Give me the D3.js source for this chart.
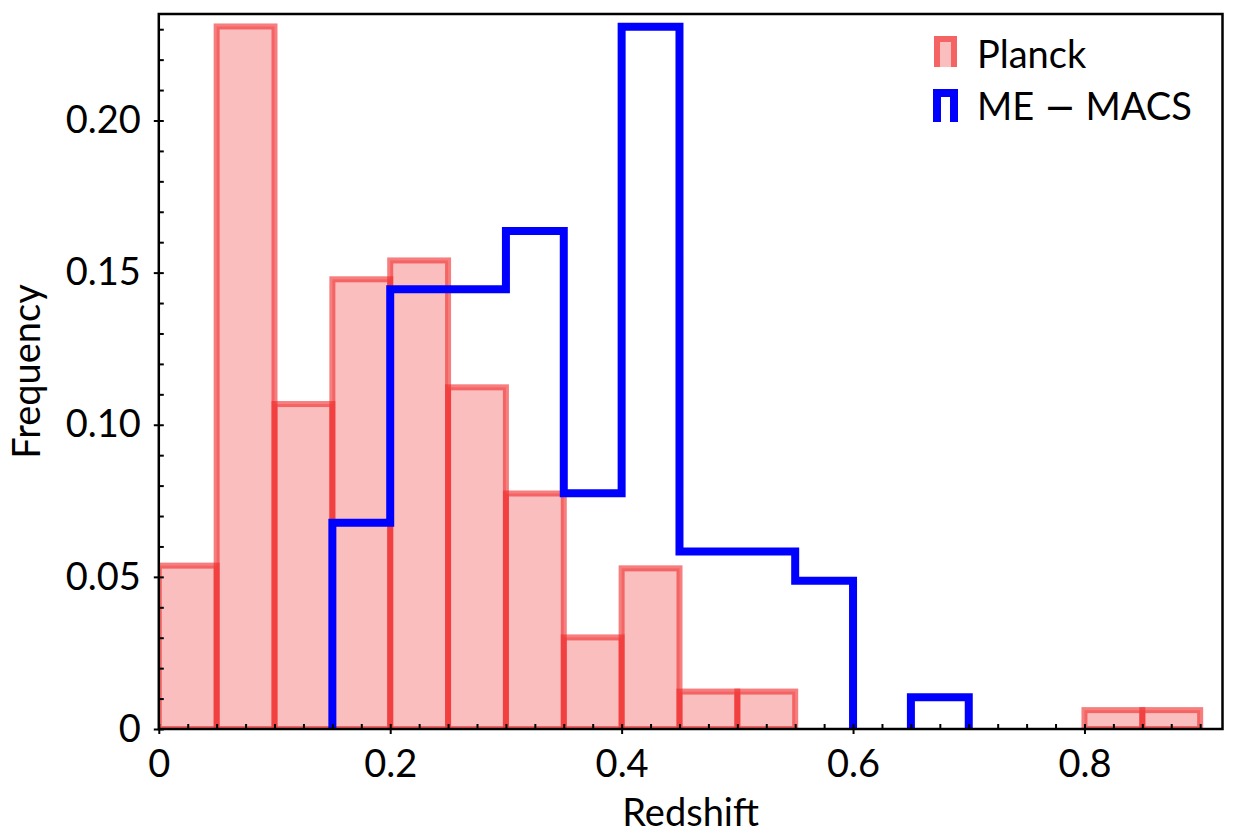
<!DOCTYPE html>
<html lang="en">
<head>
    <meta charset="UTF-8">
    <title>Redshift distribution</title>
    <script src="https://d3js.org/d3.v7.min.js"></script>
    <style>
        body { margin: 0; background: #fff; }
        text { font-family: Lato, "DejaVu Sans", sans-serif; font-weight: 400; fill: #000; }
    </style>
</head>
<body>
    <div id="chart"></div>
    <script>
        // histogram bins (lower edges), width 0.05
        const binEdges = [0, 0.05, 0.10, 0.15, 0.20, 0.25, 0.30, 0.35, 0.40, 0.45,
                          0.50, 0.55, 0.60, 0.65, 0.70, 0.75, 0.80, 0.85];
        const binWidth = 0.05;
        const planck = [0.0537, 0.2309, 0.1068, 0.1478, 0.1540, 0.1123, 0.0774, 0.0301, 0.0528,
                        0.0123, 0.0123, 0, 0, 0, 0, 0, 0.0062, 0.0062];
        const macs = [0, 0, 0, 0.0678, 0.1445, 0.1445, 0.1637, 0.0775, 0.2308,
                      0.0583, 0.0583, 0.0487, 0, 0.0104, 0, 0, 0, 0];
        const xTicks = [0, 0.2, 0.4, 0.6, 0.8];
        const xTickLabels = ['0', '0.2', '0.4', '0.6', '0.8'];
        const yTicks = [0, 0.05, 0.10, 0.15, 0.20];
        const yTickLabels = ['0', '0.05', '0.10', '0.15', '0.20'];
        const seriesNames = ['Planck', ['ME ', '\u2212', ' MACS']];

        const width = 1250, height = 834;
        const margin = { top: 14, right: 27.5, bottom: 105, left: 158.8 };

        const svg = d3.select('#chart').append('svg')
            .attr('width', width)
            .attr('height', height);

        const x = d3.scaleLinear()
            .domain([0, 0.9193])
            .range([margin.left, width - margin.right]);
        const y = d3.scaleLinear()
            .domain([0, 0.235])
            .range([height - margin.bottom, margin.top]);

        svg.append('clipPath').attr('id', 'plot-clip')
            .append('rect')
            .attr('x', x(0)).attr('y', y(0.235))
            .attr('width', x(0.9193) - x(0))
            .attr('height', y(0) - y(0.235));

        const plot = svg.append('g').attr('clip-path', 'url(#plot-clip)');

        const barFill = 'rgba(240,40,40,0.3)';
        const barEdge = 'rgba(240,40,40,0.6)';

        // Planck bars
        const bars = binEdges.map((e, i) => ({ x0: e, x1: e + binWidth, v: planck[i] }))
            .filter(d => d.v > 0);
        plot.selectAll('.bar')
            .data(bars)
            .enter().append('rect')
            .attr('class', 'bar')
            .attr('x', d => x(d.x0))
            .attr('y', d => y(d.v))
            .attr('width', d => x(d.x1) - x(d.x0))
            .attr('height', d => y(0) - y(d.v))
            .attr('fill', barFill)
            .attr('stroke', barEdge)
            .attr('stroke-width', 6);

        // ME-MACS step outline, split on empty bins
        const runs = [];
        let cur = null;
        macs.forEach((v, i) => {
            const x0 = binEdges[i], x1 = x0 + binWidth;
            if (v > 0) {
                if (!cur) { cur = [[x0, 0]]; runs.push(cur); }
                cur.push([x0, v], [x1, v]);
            } else if (cur) {
                cur.push([x0, 0]);
                cur = null;
            }
        });
        if (cur) cur.push([binEdges[binEdges.length - 1] + binWidth, 0]);

        const line = d3.line().x(d => x(d[0])).y(d => y(d[1]));
        plot.selectAll('.step')
            .data(runs)
            .enter().append('path')
            .attr('class', 'step')
            .attr('d', line)
            .attr('fill', 'none')
            .attr('stroke', '#0000ff')
            .attr('stroke-width', 8)
            .attr('stroke-linejoin', 'miter');

        // axes
        const xMinor = d3.range(0, 0.92, 0.025).filter(v => !xTicks.some(t => Math.abs(t - v) < 1e-6));
        const yMinor = d3.range(0, 0.235, 0.01).filter(v => !yTicks.some(t => Math.abs(t - v) < 1e-6));

        const gx = svg.append('g')
            .attr('transform', `translate(0,${y(0)})`)
            .call(d3.axisBottom(x).tickValues(xTicks)
                .tickFormat((d, i) => xTickLabels[i])
                .tickSize(5).tickPadding(16).tickSizeOuter(0));
        gx.selectAll('.tick line').attr('y1', -5);
        svg.append('g')
            .attr('transform', `translate(0,${y(0)})`)
            .call(d3.axisBottom(x).tickValues(xMinor).tickFormat('')
                .tickSize(-5).tickSizeOuter(0))
            .select('.domain').remove();

        const gy = svg.append('g')
            .attr('transform', `translate(${x(0)},0)`)
            .call(d3.axisLeft(y).tickValues(yTicks)
                .tickFormat((d, i) => yTickLabels[i])
                .tickSize(5).tickPadding(13).tickSizeOuter(0));
        gy.selectAll('.tick line').attr('x1', 5);
        svg.append('g')
            .attr('transform', `translate(${x(0)},0)`)
            .call(d3.axisLeft(y).tickValues(yMinor).tickFormat('')
                .tickSize(-5).tickSizeOuter(0))
            .select('.domain').remove();

        svg.selectAll('.tick text')
            .style('font-size', '38px')
            .style('font-family', 'Lato, "DejaVu Sans", sans-serif')
            .style('font-weight', 400);
        svg.selectAll('.tick line').attr('stroke', '#000').attr('stroke-width', 2);

        // frame
        svg.append('rect')
            .attr('x', x(0)).attr('y', y(0.235))
            .attr('width', x(0.9193) - x(0))
            .attr('height', y(0) - y(0.235))
            .attr('fill', 'none')
            .attr('stroke', '#000')
            .attr('stroke-width', 2.5);
        svg.selectAll('.domain').remove();

        // axis labels
        svg.append('text')
            .attr('x', (x(0) + x(0.9193)) / 2)
            .attr('y', 826)
            .attr('text-anchor', 'middle')
            .style('font-size', '38px')
            .text('Redshift');
        svg.append('text')
            .attr('transform', `translate(40,${(y(0) + y(0.235)) / 2}) rotate(-90)`)
            .attr('text-anchor', 'middle')
            .style('font-size', '38px')
            .text('Frequency');

        // legend
        const legend = svg.append('g').attr('transform', 'translate(934,0)');
        const shape = (top, bottom) => `M3,${bottom}V${top}H20V${bottom}`;
        legend.append('rect')
            .attr('x', 0).attr('y', 36).attr('width', 23).attr('height', 31)
            .attr('fill', barFill);
        legend.append('path')
            .attr('d', shape(39, 67))
            .attr('fill', 'none')
            .attr('stroke', barEdge)
            .attr('stroke-width', 6);
        legend.append('path')
            .attr('d', shape(93, 122))
            .attr('fill', 'none')
            .attr('stroke', '#0000ff')
            .attr('stroke-width', 8);
        const labels = legend.selectAll('.lab')
            .data(seriesNames)
            .enter().append('text')
            .attr('class', 'lab')
            .attr('x', 43)
            .attr('y', (d, i) => 68 + i * 52)
            .style('font-size', '38px');
        labels.each(function (d) {
            const parts = Array.isArray(d) ? d : [d];
            parts.forEach(p => {
                d3.select(this).append('tspan')
                    .style('font-family', p === '\u2212' ? '"DejaVu Sans", sans-serif' : null)
                    .text(p);
            });
        });
    </script>
</body>
</html>
